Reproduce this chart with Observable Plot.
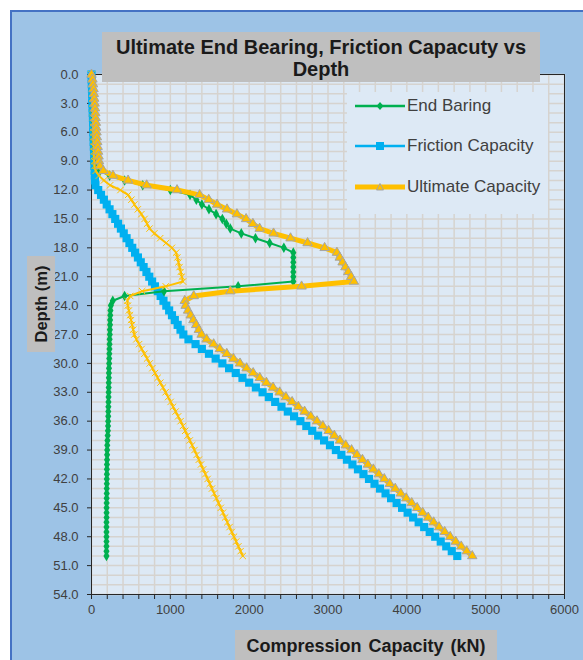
<!DOCTYPE html>
<html><head><meta charset="utf-8">
<script src="https://cdn.jsdelivr.net/npm/d3@7"></script>
<script src="https://cdn.jsdelivr.net/npm/@observablehq/plot@0.6"></script>
<style>
body{margin:0;background:#fff;font-family:"Liberation Sans",Arial,sans-serif;}
#wrap{position:relative;width:583px;height:660px;overflow:hidden;}
#panel{position:absolute;left:10px;top:10px;width:600px;height:700px;background:#9dc3e6;border-left:2px solid #4472c4;border-top:2px solid #4472c4;}
#chart{position:absolute;left:0;top:0;}
.box{position:absolute;background:#bfbfbf;color:#1a1a1a;font-weight:bold;text-align:center;box-sizing:border-box;}
#title{left:102px;top:32px;width:438px;height:50px;font-size:20px;line-height:22px;padding-top:4px;}
#ytitle{left:27px;top:256px;width:28px;height:96px;font-size:16.5px;}
#ytitle span{position:absolute;left:50%;top:50%;transform:translate(-50%,-50%) rotate(-90deg);white-space:nowrap;}
#xtitle{left:235px;top:630px;width:262px;height:40px;font-size:18px;line-height:20px;padding-top:6px;word-spacing:2px;}
#legend{position:absolute;left:347px;top:92px;width:201px;height:122px;background:#dde9f5;color:#404040;font-size:17px;}
.row{position:absolute;left:8px;height:20px;display:flex;align-items:center;}
.row svg{margin-right:2px;}
</style></head>
<body>
<div id="wrap">
  <div id="panel"></div>
  <div id="chart"></div>
  <div id="title" class="box">Ultimate End Bearing, Friction Capacuty vs<br>Depth</div>
  <div id="ytitle" class="box"><span>Depth (m)</span></div>
  <div id="xtitle" class="box">Compression Capacity (kN)</div>
  <div id="legend"></div>
</div>
<script>
const depth = [0,0.5,1,1.5,2,2.5,3,3.5,4,4.5,5,5.5,6,6.5,7,7.5,8,8.5,9,9.5,10,10.5,11,11.5,
 12,12.5,13,13.5,14,14.5,15,15.5,16,16.5,17,17.5,18,18.5,19,19.5,20,20.5,21,21.5,22,22.5,23,23.5,24,
 24.5,25,25.5,26,26.5,27,27.5,28,28.5,29,29.5,30,30.5,31,31.5,32,32.5,33,33.5,34,34.5,35,35.5,36,36.5,37,37.5,
 38,38.5,39,39.5,40,40.5,41,41.5,42,42.5,43,43.5,44,44.5,45,45.5,46,46.5,47,47.5,48,48.5,49,49.5,50];

const endBearing = [0,10,15,20,22,25,28,30,32,34,36,38,40,42,45,48,52,56,60,70,110,230,420,650,
 1000,1250,1330,1400,1490,1580,1660,1710,1760,1900,2080,2260,2440,2560,2560,2560,2560,2560,2560,2560,1860,920,420,270,245,
 240,238,236,235,233,232,230,229,228,226,225,224,222,221,220,219,218,217,216,215,214,213,212,211,210,208,205,
 202,200,199,198,197,196,195,195,194,194,193,193,192,192,191,191,191,190,190,190,190,190,190,190,190];

const friction = [0,2,4,6,8,10,12,14,16,18,20,22,24,26,28,30,32,34,36,38,40,42,44,50,
 85,121,157,193,229,265,301,337,373,409,445,481,517,553,589,625,661,697,733,769,805,841,877,913,949,
 985,1021,1057,1093,1129,1165,1230,1320,1400,1490,1575,1660,1745,1830,1915,2000,2085,2170,2250,2330,2410,2490,2570,2650,2725,2800,2875,
 2950,3025,3100,3170,3240,3310,3380,3450,3520,3590,3660,3730,3800,3870,3940,4010,4080,4150,4220,4290,4360,4430,4500,4570,4640];

const ultimate = [0,12,19,26,30,35,40,44,48,52,56,60,64,68,73,78,84,90,96,108,150,272,464,700,
 1085,1371,1487,1593,1719,1845,1961,2047,2133,2309,2525,2741,2957,3113,3149,3185,3221,3257,3293,3329,2665,1761,1297,1183,1194,
 1225,1259,1293,1328,1362,1397,1460,1549,1628,1716,1800,1884,1967,2051,2135,2219,2303,2387,2466,2545,2624,2703,2782,2861,2935,3008,3080,
 3152,3225,3299,3368,3437,3506,3575,3645,3714,3784,3853,3923,3992,4062,4131,4201,4271,4340,4410,4480,4550,4620,4690,4760,4830];

const allowable = [0,4,7,9,11,12,14,16,17,18,20,21,23,24,26,28,30,32,34,38,53,94,158,237,
 367,465,506,544,588,633,673,705,736,797,871,946,1020,1074,1089,1103,1117,1132,1146,1161,942,643,491,455,461,
 474,488,502,515,529,543,569,604,636,671,705,739,772,806,839,873,907,940,972,1004,1035,1067,1099,1130,1160,1189,1218,
 1247,1277,1306,1334,1362,1389,1417,1445,1473,1501,1528,1556,1584,1612,1640,1668,1695,1723,1751,1779,1807,1835,1863,1891,1919];

const seriesNames = ["End Baring","Friction Capacity","Ultimate Capacity"];
const yTicks = [0,3,6,9,12,15,18,21,24,27,30,33,36,39,42,45,48,51,54];
const xTicks = [0,1000,2000,3000,4000,5000,6000];

const data = depth.map((d,i)=>({depth:d,end:endBearing[i],fric:friction[i],ult:ultimate[i],allow:allowable[i]}));
const xMinor = d3.range(0,6001,200);
const yMinor = d3.range(0,55,1);

const chart = Plot.plot({
  width:583, height:660,
  marginLeft:91, marginRight:19, marginTop:74, marginBottom:66,
  style:{background:"transparent", fontFamily:"'Liberation Sans', Arial, sans-serif", fontSize:"13px", color:"#404040", overflow:"visible"},
  x:{domain:[0,6000]},
  y:{domain:[0,54], reverse:true},
  marks:[
    Plot.frame({fill:"#dde9f5", stroke:null}),
    Plot.gridX({ticks:xMinor, stroke:"#d6d3cf", strokeOpacity:1, strokeWidth:1.5}),
    Plot.gridY({ticks:yMinor, stroke:"#d6d3cf", strokeOpacity:1, strokeWidth:1.5}),
    Plot.frame({stroke:"#262626", strokeWidth:1}),
    Plot.axisY({ticks:yTicks, tickFormat:d=>d.toFixed(1), tickSize:4, tickPadding:9, label:null, stroke:"#262626"}),
    Plot.axisX({ticks:xMinor, tickFormat:d=> xTicks.includes(d) ? String(d) : "", tickSize:5, tickPadding:5, label:null, stroke:"#262626"}),
    Plot.line(data,{x:"fric",y:"depth",stroke:"#00b0f0",strokeWidth:3}),
    Plot.dot(data,{x:"fric",y:"depth",symbol:"square",r:4.6,fill:"#00b0f0"}),
    Plot.line(data,{x:"end",y:"depth",stroke:"#00b050",strokeWidth:2}),
    Plot.dot(data,{x:"end",y:"depth",symbol:"diamond",r:3.2,fill:"#00b050"}),
    Plot.line(data,{x:"allow",y:"depth",stroke:"#ffc000",strokeWidth:2}),
    Plot.dot(data,{x:"allow",y:"depth",symbol:"times",r:3,stroke:"#ffc000",strokeWidth:1}),
    Plot.line(data,{x:"ult",y:"depth",stroke:"#ffc000",strokeWidth:5}),
    Plot.dot(data,{x:"ult",y:"depth",symbol:"triangle",r:3.5,fill:"#ffc000",stroke:"#a5a5a5",strokeWidth:1})
  ]
});
document.getElementById("chart").appendChild(chart);

// legend
const legendSpecs = [
  {name:seriesNames[0], color:"#00b050", w:2.5, marker:'<path d="M25,3 L28.5,7 L25,11 L21.5,7Z" fill="#00b050"/>'},
  {name:seriesNames[1], color:"#00b0f0", w:2.5, marker:'<rect x="21" y="3" width="8" height="8" fill="#00b0f0"/>'},
  {name:seriesNames[2], color:"#ffc000", w:5, marker:'<path d="M25,3.5 L28.5,10 L21.5,10Z" fill="#ffc000" stroke="#a5a5a5" stroke-width="1"/>'}
];
const lg = document.getElementById("legend");
const rowTops = [4,44,85];
legendSpecs.forEach((s,i)=>{
  const r = document.createElement("div");
  r.className="row"; r.style.top = rowTops[i]+"px";
  r.innerHTML = `<svg width="50" height="14"><line x1="0" x2="50" y1="7" y2="7" stroke="${s.color}" stroke-width="${s.w}" stroke-linecap="round"/>${s.marker}</svg><span>${s.name}</span>`;
  lg.appendChild(r);
});
</script>
</body></html>
